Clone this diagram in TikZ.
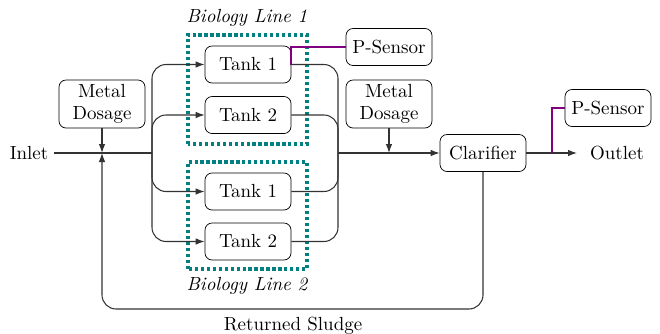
\documentclass[tikz,border=0pt]{standalone}
\usetikzlibrary{arrows.meta}
\definecolor{sensecol}{RGB}{128,0,128}
\definecolor{groupcol}{RGB}{0,128,128}
\newcommand{\labelsize}{\fontsize{10.8}{12.8}\selectfont}
\begin{document}
\begin{tikzpicture}[
  every node/.style={font=\labelsize},
  box/.style={draw,rounded corners=4pt,align=center,minimum width=1.72cm,minimum height=0.74cm,inner sep=1.5pt},
  pipe/.style={draw=black!80,semithick,rounded corners=8pt},
  flow/.style={pipe,-{Latex[length=1.8mm,width=1.3mm]}},
  sense/.style={draw=sensecol,line width=1.1pt},
  line group/.style={draw=groupcol,line width=1.8pt,dash pattern=on 1.8pt off 1.6pt}
]
\useasboundingbox (0,0) rectangle (13.2,6.66);
% left side
\node (inlet) at (0.58,3.6) {Inlet};
\node[box,minimum height=0.96cm] (dose1) at (2.04,4.58) {Metal\\Dosage};
\coordinate (join) at (2.04,3.6);
\coordinate (split) at (3.04,3.6);
% tanks
\node[box] (tankA1) at (4.96,5.37) {Tank 1};
\node[box] (tankA2) at (4.96,4.36) {Tank 2};
\node[box] (tankB1) at (4.96,2.83) {Tank 1};
\node[box] (tankB2) at (4.96,1.83) {Tank 2};
\draw[line group] (3.76,3.78) rectangle (6.14,5.96);
\draw[line group] (3.76,1.28) rectangle (6.14,3.42);
\node[font=\labelsize\itshape] (bio1) at (4.94,6.3) {Biology Line 1};
\node[font=\labelsize\itshape] (bio2) at (4.94,0.94) {Biology Line 2};
% right side
\coordinate (merge) at (6.76,3.6);
\node[box] (psense1) at (7.78,5.72) {P-Sensor};
\node[box,minimum height=0.96cm] (dose2) at (7.78,4.58) {Metal\\Dosage};
\node[box] (clar) at (9.66,3.6) {Clarifier};
\node (outlet) at (12.34,3.6) {Outlet};
\node[box] (psense2) at (12.16,4.5) {P-Sensor};
\coordinate (tap) at (11.04,3.6);
\coordinate (outend) at (11.54,3.6);
\coordinate (sludge) at (2.04,0.48);

% flow lines
\draw[pipe] (inlet) -- (split);
\foreach \t in {tankA1,tankA2,tankB1,tankB2}
  \draw[flow] (split) |- (\t.west);
\foreach \t in {tankA1,tankA2,tankB1,tankB2}
  \draw[pipe] (\t.east) -| (merge);
\draw[flow] (merge) -- (clar.west);
\draw[flow] (clar.east) -- (outend);
\draw[flow] (dose1.south) -- (join);
\draw[flow] (dose2.south) -- (dose2.south |- merge);
\draw[flow] (clar.south) |- (sludge) -- (join);
\node[below=1pt] (retlabel) at (5.86,0.48) {Returned Sludge};
% sensors
\draw[sense] (psense1.west) -| (tankA1.east);
\draw[sense] (psense2.west) -| (tap);
\end{tikzpicture}
\end{document}
